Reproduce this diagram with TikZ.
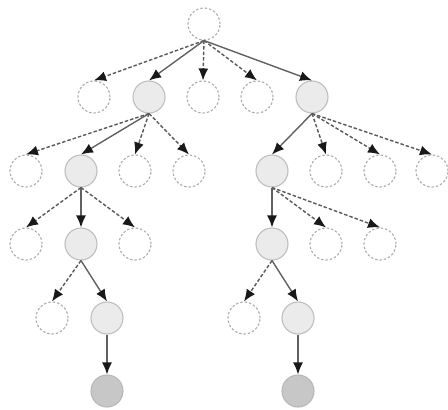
\documentclass[tikz,border=0pt]{standalone}
\usetikzlibrary{arrows.meta}
\begin{document}
\begin{tikzpicture}[x=1pt,y=-1pt,
  pruned/.style={circle,minimum size=32pt,inner sep=0pt,draw=black!33,line width=1.1pt,dash pattern=on 2.4pt off 2pt,fill=white},
  kept/.style={circle,minimum size=32pt,inner sep=0pt,draw=black!25,line width=1.1pt,fill=black!8},
  leaf/.style={circle,minimum size=32pt,inner sep=0pt,draw=black!28,line width=1.1pt,fill=black!22},
  tip/.style={-{Latex[length=12pt,width=10pt,color=black!90]}},
  live/.style={tip,draw=black!62,line width=1.4pt},
  dead/.style={tip,draw=black!65,line width=1.4pt,dash pattern=on 3.5pt off 2pt}]
\useasboundingbox (0,0) rectangle (448,410);
% root and first level
\node[pruned] (r) at (204,24) {};
\node[pruned] (a1) at (94,97) {};
\node[kept]   (a2) at (149,97) {};
\node[pruned] (a3) at (203,97) {};
\node[pruned] (a4) at (257,97) {};
\node[kept]   (a5) at (312,97) {};
% second level
\node[pruned] (b1) at (26,171) {};
\node[kept]   (b2) at (81,171) {};
\node[pruned] (b3) at (135,171) {};
\node[pruned] (b4) at (189,171) {};
\node[kept]   (b5) at (272,171) {};
\node[pruned] (b6) at (326,171) {};
\node[pruned] (b7) at (380,171) {};
\node[pruned] (b8) at (432,171) {};
% third level
\node[pruned] (c1) at (26,244) {};
\node[kept]   (c2) at (81,244) {};
\node[pruned] (c3) at (135,244) {};
\node[kept]   (c4) at (272,244) {};
\node[pruned] (c5) at (326,244) {};
\node[pruned] (c6) at (380,244) {};
% fourth level
\node[pruned] (d1) at (52,318) {};
\node[kept]   (d2) at (107,318) {};
\node[pruned] (d3) at (244,318) {};
\node[kept]   (d4) at (298,318) {};
% final level
\node[leaf] (e1) at (107,391) {};
\node[leaf] (e2) at (298,391) {};
% edges
\draw[dead] (r.south) -- (a1.north);
\draw[live] (r.south) -- (a2.north);
\draw[dead] (r.south) -- (a3.north);
\draw[dead] (r.south) -- (a4.north);
\draw[live] (r.south) -- (a5.north);
\draw[dead] (a2.south) -- (b1.north);
\draw[live] (a2.south) -- (b2.north);
\draw[dead] (a2.south) -- (b3.north);
\draw[dead] (a2.south) -- (b4.north);
\draw[live] (a5.south) -- (b5.north);
\draw[dead] (a5.south) -- (b6.north);
\draw[dead] (a5.south) -- (b7.north);
\draw[dead] (a5.south) -- (b8.north);
\draw[dead] (b2.south) -- (c1.north);
\draw[live] (b2.south) -- (c2.north);
\draw[dead] (b2.south) -- (c3.north);
\draw[live] (b5.south) -- (c4.north);
\draw[dead] (b5.south) -- (c5.north);
\draw[dead] (b5.south) -- (c6.north);
\draw[dead] (c2.south) -- (d1.north);
\draw[live] (c2.south) -- (d2.north);
\draw[dead] (c4.south) -- (d3.north);
\draw[live] (c4.south) -- (d4.north);
\draw[live] (d2.south) -- (e1.north);
\draw[live] (d4.south) -- (e2.north);
\end{tikzpicture}
\end{document}
